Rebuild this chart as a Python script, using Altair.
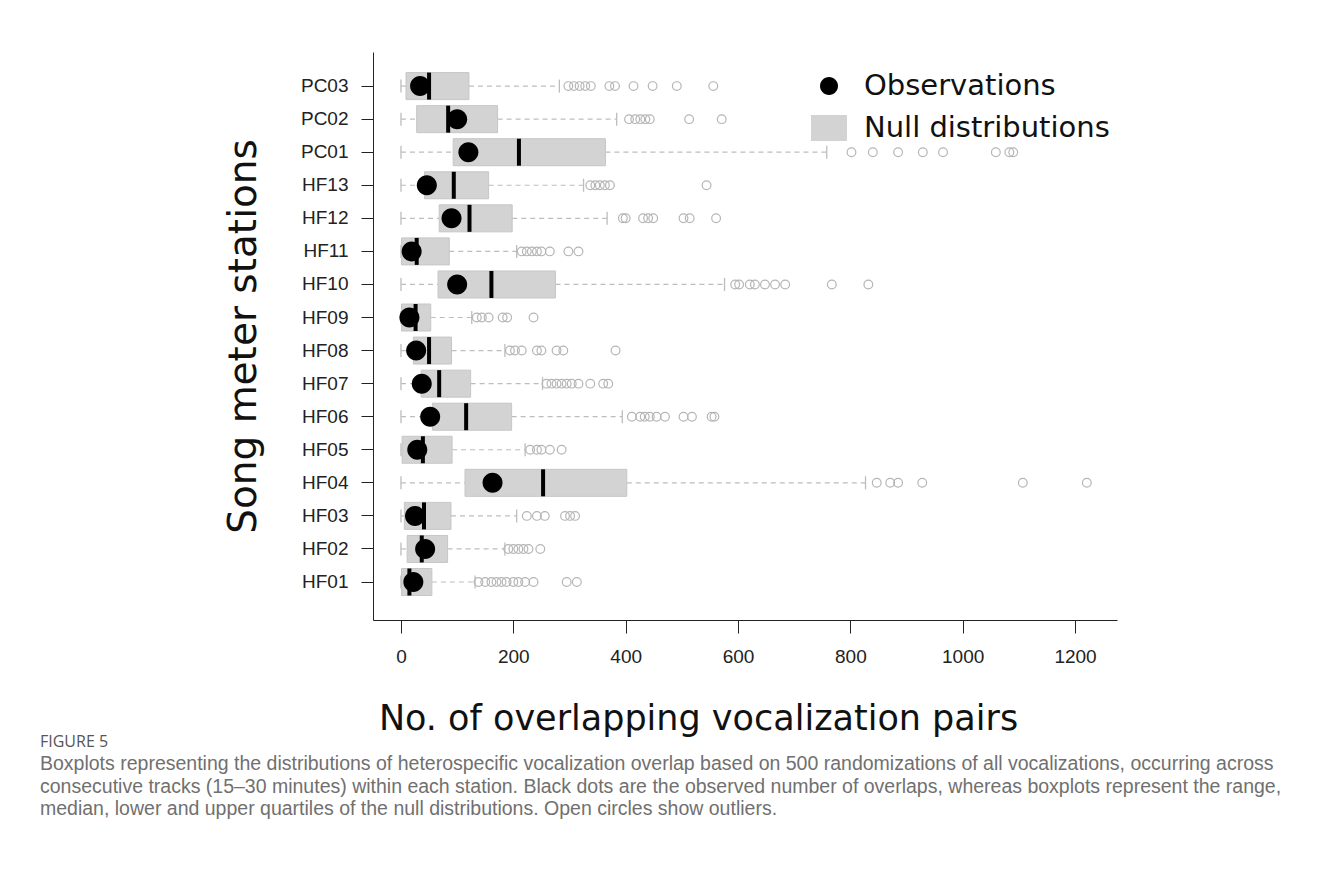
import altair as alt
import pandas as pd

stations = ["PC03", "PC02", "PC01", "HF13", "HF12", "HF11", "HF10", "HF09",
            "HF08", "HF07", "HF06", "HF05", "HF04", "HF03", "HF02", "HF01"]
lower = [0, 0, 0, 0, 0, 0, 0, 0, 0, 0, 0, 0, 0, 0, 0, 0]
q1 = [9, 28, 93, 42, 68, 1, 66, 1, 22, 36, 56, 2, 114, 6, 11, 1]
median = [50, 84, 210, 94, 122, 28, 161, 26, 50, 68, 116, 39, 253, 41, 37, 15]
q3 = [121, 172, 364, 156, 198, 86, 275, 53, 90, 124, 197, 91, 402, 89, 83, 55]
upper = [282, 384, 758, 325, 367, 206, 576, 126, 185, 252, 394, 221, 827, 206, 185, 132]
observed = [34, 100, 120, 46, 90, 19, 100, 15, 27, 37, 52, 29, 163, 25, 43, 22]
outliers = [
    [298, 308, 318, 328, 338, 371, 381, 414, 448, 491, 556],
    [406, 417, 426, 435, 443, 513, 571],
    [802, 840, 885, 929, 965, 1059, 1083, 1090],
    [337, 346, 354, 363, 372, 544],
    [395, 400, 431, 440, 449, 503, 514, 561],
    [215, 224, 233, 242, 250, 265, 298, 316],
    [595, 602, 621, 630, 648, 666, 684, 767, 832],
    [135, 144, 156, 181, 189, 236],
    [194, 203, 215, 242, 250, 277, 289, 382],
    [259, 268, 277, 286, 295, 304, 316, 337, 360, 369],
    [411, 426, 434, 443, 455, 470, 503, 518, 553, 558],
    [230, 242, 250, 265, 286],
    [847, 871, 885, 928, 1107, 1221],
    [224, 242, 256, 292, 301, 310],
    [191, 200, 209, 218, 227, 248],
    [138, 150, 161, 170, 179, 188, 200, 209, 221, 236, 295, 313],
]
x_ticks = [0, 200, 400, 600, 800, 1000, 1200]
legend_labels = ["Observations", "Null distributions"]
caption_title = "FIGURE 5"
caption_lines = [
    "Boxplots representing the distributions of heterospecific vocalization overlap based on 500 randomizations of all vocalizations, occurring across",
    "consecutive tracks (15\u201330 minutes) within each station. Black dots are the observed number of overlaps, whereas boxplots represent the range,",
    "median, lower and upper quartiles of the null distributions. Open circles show outliers.",
]

box_df = pd.DataFrame({
    "station": stations, "lower": lower, "q1": q1, "median": median,
    "q3": q3, "upper": upper, "observed": observed,
    "kind": [legend_labels[0]] * len(stations),
})
out_df = pd.DataFrame(
    [{"station": s, "value": v} for s, vals in zip(stations, outliers) for v in vals]
)

GRAY = "#bdbdbd"
BOX = "#d3d3d3"

y_enc = alt.Y(
    "station:N",
    sort=stations,
    scale=alt.Scale(domain=stations, paddingInner=0, paddingOuter=0.59, align=0.45),
    axis=alt.Axis(
        title="Song meter stations", titleFont="DejaVu Sans", titleFontSize=39,
        titleFontWeight="normal", titleColor="#111", titleAngle=270,
        titleX=-130, titleY=284, titleBaseline="middle", titleAlign="center",
        labelFont="Liberation Sans", labelFontSize=19, labelColor="#222",
        labelPadding=13, tickSize=12, tickColor="#222", domainColor="#222",
        ticks=True, grid=False,
    ),
)

xscale = alt.Scale(domain=[-49.8, 1274.7], nice=False, zero=False)
xaxis = alt.Axis(
    values=x_ticks, format="d", title="No. of overlapping vocalization pairs",
    titleFont="DejaVu Sans", titleFontSize=35, titleFontWeight="normal",
    titleColor="#111", titleX=325, titleY=98, titleBaseline="middle",
    titleAlign="center",
    labelFont="Liberation Sans", labelFontSize=19, labelColor="#222",
    labelPadding=14, tickSize=13, tickColor="#222", domainColor="#222",
    grid=False,
)


def xe(field):
    return alt.X(field, scale=xscale, axis=xaxis)


base_box = alt.Chart(box_df)

whisk_lo = base_box.mark_rule(color=GRAY, strokeWidth=1.2, strokeDash=[5, 4]).encode(
    x=xe("lower:Q"), x2="q1:Q", y=y_enc)
whisk_hi = base_box.mark_rule(color=GRAY, strokeWidth=1.2, strokeDash=[5, 4]).encode(
    x=xe("q3:Q"), x2="upper:Q", y=y_enc)
staple_lo = base_box.mark_tick(color=GRAY, thickness=1.3, size=13, opacity=1).encode(
    x=xe("lower:Q"), y=y_enc)
staple_hi = base_box.mark_tick(color=GRAY, thickness=1.3, size=13, opacity=1).encode(
    x=xe("upper:Q"), y=y_enc)
boxes = base_box.mark_bar(color=BOX, stroke="#c6c6c6", strokeWidth=1, size=27).encode(
    x=xe("q1:Q"), x2="q3:Q", y=y_enc)
medians = base_box.mark_tick(color="black", thickness=4, size=27, opacity=1).encode(
    x=xe("median:Q"), y=y_enc)
outs = alt.Chart(out_df).mark_point(
    shape="circle", filled=False, color="#b5b5b5", strokeWidth=1.2, size=76, opacity=1
).encode(x=xe("value:Q"), y=y_enc)

circle_path = "M0.5,0A0.5,0.5,0,1,1,-0.5,0A0.5,0.5,0,1,1,0.5,0Z"
rect_path = "M-1,-0.72L1,-0.72L1,0.72L-1,0.72Z"

obs = base_box.mark_point(filled=True, opacity=1, size=1600, strokeWidth=0).encode(
    x=xe("observed:Q"),
    y=y_enc,
    color=alt.Color("kind:N", scale=alt.Scale(domain=legend_labels, range=["black", BOX]),
                    legend=alt.Legend(
                        title=None, orient="none", legendX=438, legendY=16,
                        labelFont="DejaVu Sans", labelFontSize=29, labelColor="#111",
                        labelOffset=17, labelLimit=0, symbolSize=1296,
                        symbolStrokeWidth=0, rowPadding=9, padding=0,
                        symbolOpacity=1,
                    )),
    shape=alt.Shape("kind:N", scale=alt.Scale(domain=legend_labels,
                                              range=[circle_path, rect_path])),
)

chart = alt.layer(
    whisk_lo, whisk_hi, staple_lo, staple_hi, boxes, medians, outs, obs
).properties(
    width=744, height=568,
    autosize=alt.AutoSizeParams(type="none"),
    padding={"left": 365, "top": 44, "right": 195, "bottom": 215},
    title=alt.TitleParams(
        text=caption_title, subtitle=caption_lines, orient="bottom",
        anchor="start", frame="group", dx=-333, offset=-2,
        font="Open Sans", fontSize=16, fontWeight=500, color="#555",
        subtitleFont="Liberation Sans", subtitleFontSize=19.5, subtitleFontWeight="normal",
        subtitleColor="#707070", subtitleLineHeight=22.5, subtitlePadding=5,
    ),
).configure(background="white").configure_view(strokeWidth=0, stroke="transparent")

chart.save("out.html", embed_options={"renderer": "svg", "actions": False})
